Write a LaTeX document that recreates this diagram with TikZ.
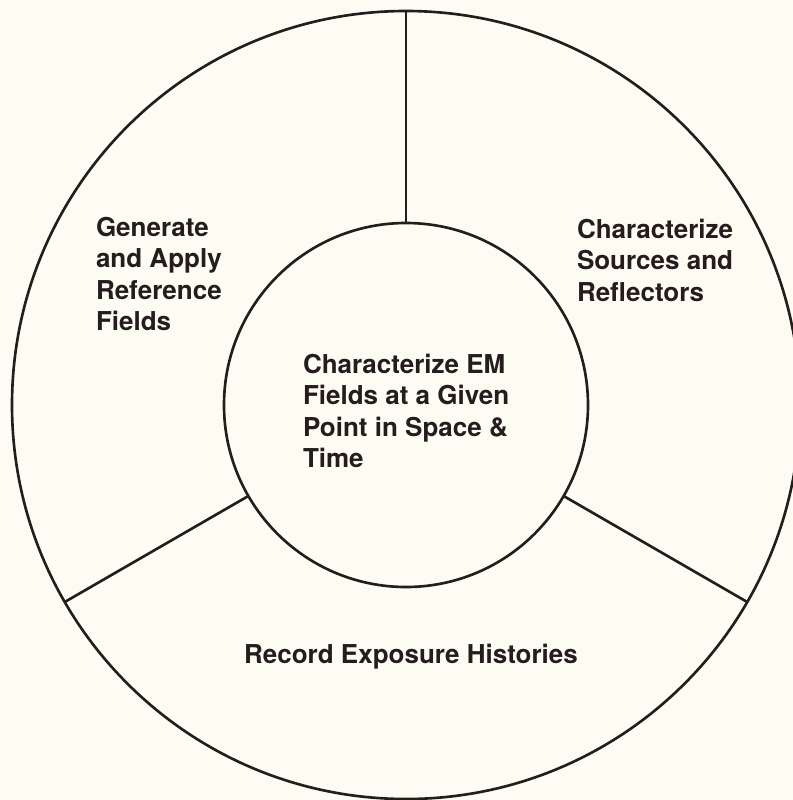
\documentclass[tikz,border=0pt]{standalone}
\usepackage{fontspec}
\setmainfont{TeX Gyre Heros}
\usepackage{tikz}
\definecolor{ink}{RGB}{38,28,30}
\definecolor{paper}{RGB}{253,252,243}

\begin{document}
\begin{tikzpicture}[scale=0.2]
            \tikzstyle{every node}+=[inner sep=0pt, outer sep=0pt]
            \tikzstyle{ring}=[draw=ink, line width=1.5pt, circle]
            \tikzstyle{field}=[text=ink, align=left, font=\fontsize{14.8}{17.9}\selectfont\bfseries]
            \fill [paper] (0,0) rectangle (79.3,-80);
            \clip (0,0) rectangle (79.3,-80);
            \node [ring, minimum size=15.76cm] (outer) at (40.6,-40.5) {};
            \node [ring, minimum size=7.28cm] (core) at (40.6,-40.5) {};
            \draw [ink, line width=1.5pt] (core.90) -- (outer.90);
            \draw [ink, line width=1.5pt] (core.210) -- (outer.210);
            \draw [ink, line width=1.5pt] (core.330) -- (outer.330);
            \node [field, anchor=north west] (generate) at (9.6,-21.7) {Generate\\and Apply\\Reference\\Fields};
            \node [field, anchor=north west] (sources) at (57.7,-21.9) {Characterize\\Sources and\\Reflectors};
            \node [field, anchor=north west] (emfields) at (30.3,-35.4) {Characterize EM\\Fields at a Given\\Point in Space \&\\Time};
            \node [field, anchor=base] (record) at (41.1,-66.3) {Record Exposure Histories};
\end{tikzpicture}
\end{document}
